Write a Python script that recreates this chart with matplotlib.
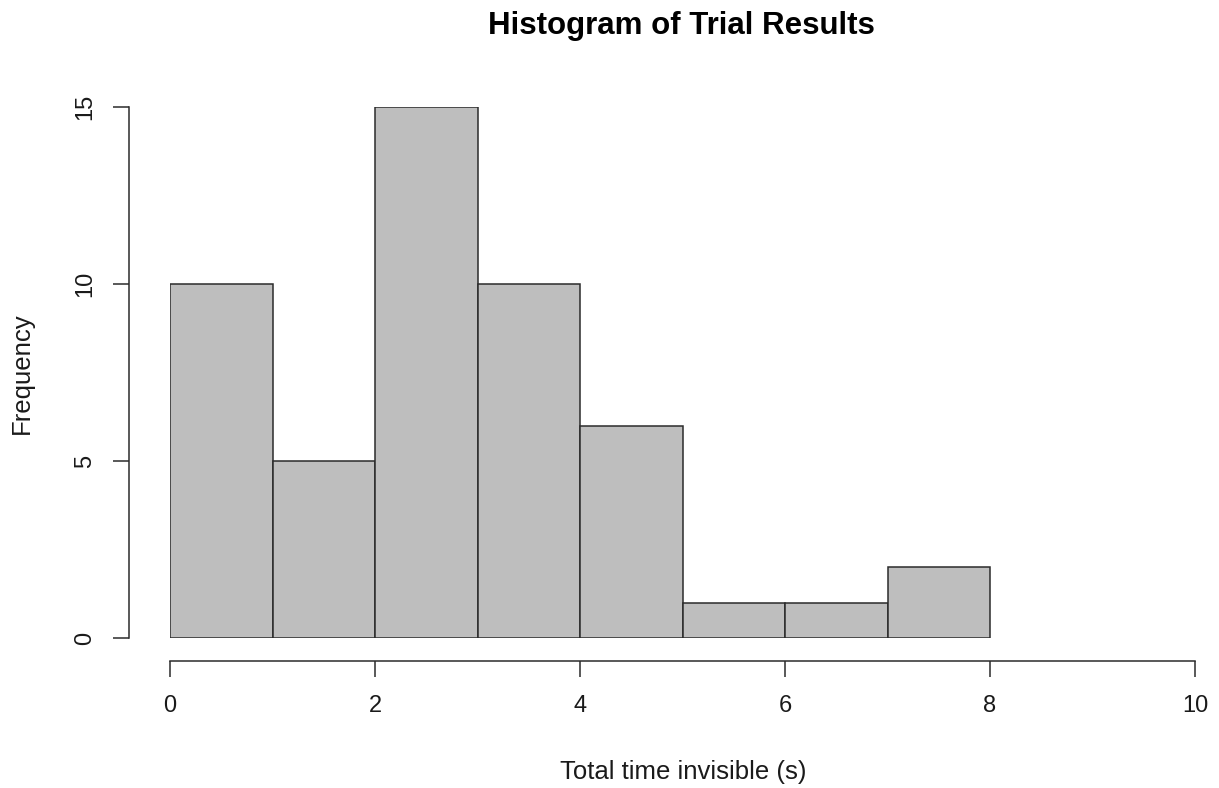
import matplotlib
matplotlib.use("Agg")
import matplotlib.pyplot as plt

plt.rcParams['font.family'] = ['Liberation Sans', 'DejaVu Sans']

bin_edges = [0, 1, 2, 3, 4, 5, 6, 7, 8]
counts = [10, 5, 15, 10, 6, 1, 1, 2]
x_ticks = [0, 2, 4, 6, 8, 10]
y_ticks = [0, 5, 10, 15]

W, H = 1219, 788
fig = plt.figure(figsize=(W / 100, H / 100), dpi=100)
ax = fig.add_axes([170 / W, 150 / H, 1025 / W, 531 / H])

line_c = '#2b2b2b'
text_c = '#1a1a1a'
lw = 1.1

lefts = bin_edges[:-1]
widths = [b - a for a, b in zip(bin_edges[:-1], bin_edges[1:])]
ax.bar(lefts, counts, width=widths, align='edge', color='#BEBEBE',
       edgecolor=line_c, linewidth=lw)

ax.set_xlim(0, 10)
ax.set_ylim(0, 15)
for s in ['top', 'right']:
    ax.spines[s].set_visible(False)
ax.spines['bottom'].set_position(('outward', 23 * 0.72))
ax.spines['left'].set_position(('outward', 41 * 0.72))
ax.spines['bottom'].set_bounds(0, 10)
ax.spines['left'].set_bounds(0, 15)
for s in ['bottom', 'left']:
    ax.spines[s].set_linewidth(lw)
    ax.spines[s].set_color(line_c)

ax.set_xticks(x_ticks)
ax.set_yticks(y_ticks)
ax.set_yticklabels([str(v) for v in y_ticks], rotation=90, va='center')
ax.tick_params(axis='both', length=11.5, width=lw, color=line_c,
               labelsize=17, labelcolor=text_c)
ax.tick_params(axis='x', pad=13)
ax.tick_params(axis='y', pad=12)

fig.text(683 / W, 1 - 772 / H, 'Total time invisible (s)', fontsize=18.5,
         ha='center', va='center', color=text_c)
fig.text(22 / W, 1 - 373 / H, 'Frequency', fontsize=18.5, rotation=90,
         ha='center', va='center', color=text_c)
fig.text(681 / W, 1 - 26 / H, 'Histogram of Trial Results', fontsize=22.5,
         fontweight='bold', ha='center', va='center', color='black')

fig.savefig('out.png', dpi=100)
